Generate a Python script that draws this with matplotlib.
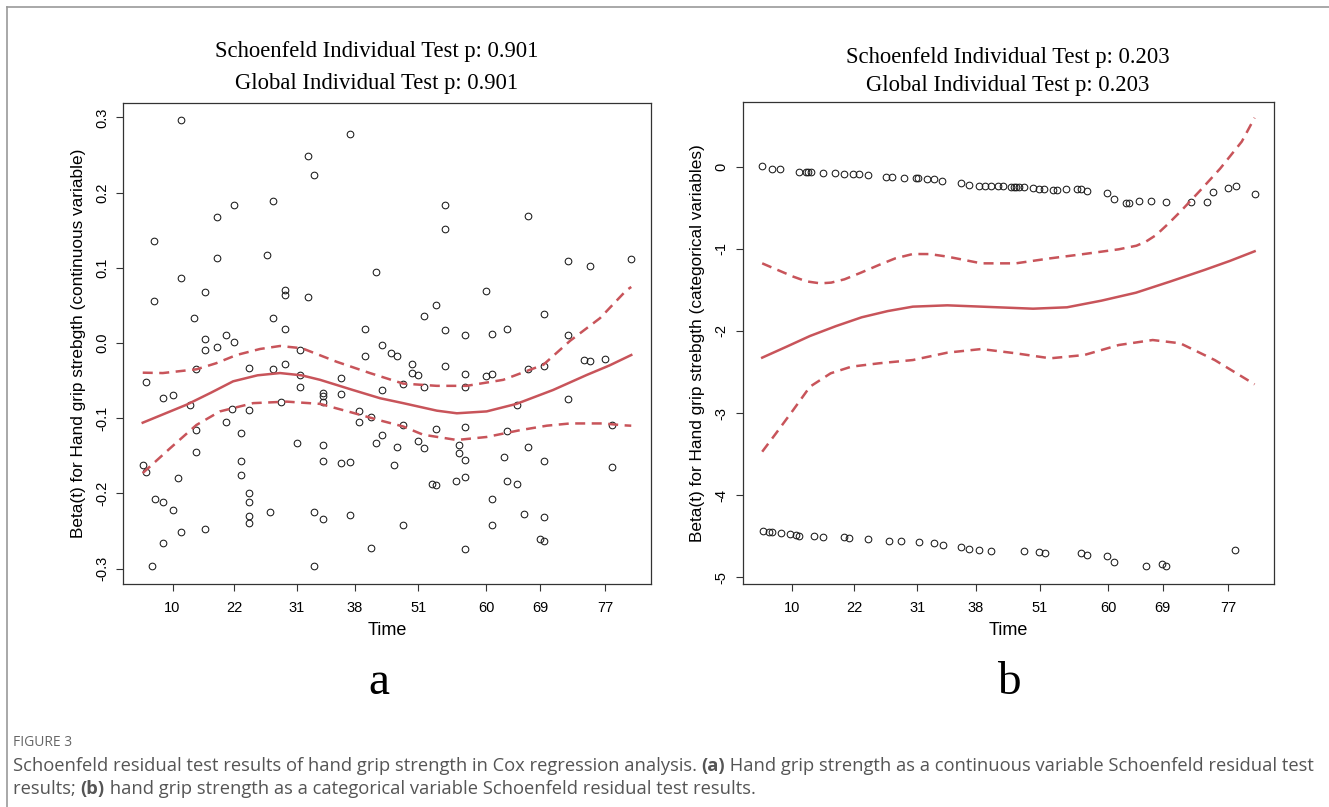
import matplotlib
matplotlib.use("Agg")
import matplotlib.pyplot as plt
from matplotlib.lines import Line2D

# ---------------- data ----------------
# x axis: Kaplan-Meier transformed time (0 = first event, 1 = last event)
tick_pos = [0.061, 0.187, 0.315, 0.434, 0.564, 0.703, 0.813, 0.946]
tick_labels = ["10", "22", "31", "38", "51", "60", "69", "77"]

# panel a: continuous variable residuals
a_t = [0.079, 0.424, 0.339, 0.351, 0.187, 0.267, 0.151, 0.024, 0.151, 0.254,
       0.478, 0.079, 0.128, 0.024, 0.291, 0.291, 0.339, 0.104, 0.267, 0.291,
       0.454, 0.128, 0.170, 0.187, 0.128, 0.151, 0.322, 0.618, 0.618, 0.789,
       0.871, 0.915, 1.000, 0.703, 0.600, 0.575, 0.821, 0.618, 0.660, 0.715,
       0.746, 0.871, 0.490, 0.006, 0.110, 0.218, 0.267, 0.291, 0.321, 0.321,
       0.406, 0.454, 0.042, 0.061, 0.097, 0.182, 0.218, 0.284, 0.369, 0.369,
       0.369, 0.406, 0.442, 0.442, 0.467, 0.490, 0.490, 0.478, 0.170, 0.110,
       0.201, 0.315, 0.369, 0.110, 0.000, 0.007, 0.073, 0.201, 0.201, 0.369,
       0.406, 0.424, 0.025, 0.042, 0.061, 0.218, 0.218, 0.218, 0.218, 0.261,
       0.351, 0.369, 0.424, 0.079, 0.128, 0.042, 0.467, 0.018, 0.351, 0.509,
       0.521, 0.551, 0.551, 0.564, 0.618, 0.660, 0.703, 0.715, 0.789, 0.821,
       0.903, 0.915, 0.946, 0.533, 0.575, 0.660, 0.767, 0.871, 0.533, 0.600,
       0.660, 0.746, 0.961, 0.521, 0.564, 0.576, 0.648, 0.648, 0.660, 0.739,
       0.789, 0.821, 0.961, 0.515, 0.593, 0.600, 0.642, 0.660, 0.746, 0.767,
       0.715, 0.781, 0.821, 0.533, 0.715, 0.813, 0.821, 0.660]
a_beta = [0.296, 0.278, 0.249, 0.223, 0.184, 0.189, 0.168, 0.135, 0.113, 0.117,
          0.094, 0.087, 0.068, 0.056, 0.070, 0.064, 0.061, 0.033, 0.033, 0.018,
          0.018, 0.005, 0.011, 0.001, -0.009, -0.006, -0.009, 0.183, 0.152, 0.169,
          0.109, 0.103, 0.112, 0.069, 0.050, 0.036, 0.038, 0.017, 0.011, 0.012,
          0.019, 0.010, -0.003, -0.052, -0.035, -0.033, -0.035, -0.028, -0.043, -0.058,
          -0.047, -0.017, -0.073, -0.069, -0.083, -0.088, -0.089, -0.078, -0.066, -0.070,
          -0.078, -0.068, -0.090, -0.105, -0.099, -0.062, -0.123, -0.133, -0.105, -0.116,
          -0.120, -0.133, -0.136, -0.145, -0.162, -0.171, -0.180, -0.157, -0.176, -0.157,
          -0.160, -0.158, -0.207, -0.211, -0.222, -0.199, -0.211, -0.230, -0.239, -0.225,
          -0.225, -0.234, -0.229, -0.252, -0.247, -0.266, -0.273, -0.296, -0.297, -0.013,
          -0.017, -0.028, -0.040, -0.043, -0.030, -0.041, -0.044, -0.041, -0.034, -0.030,
          -0.022, -0.024, -0.021, -0.055, -0.059, -0.058, -0.082, -0.074, -0.109, -0.114,
          -0.112, -0.117, -0.109, -0.138, -0.130, -0.139, -0.136, -0.146, -0.155, -0.152,
          -0.138, -0.157, -0.165, -0.162, -0.188, -0.189, -0.183, -0.178, -0.184, -0.187,
          -0.207, -0.227, -0.231, -0.242, -0.242, -0.260, -0.263, -0.274]

a_fit_t = [0.0, 0.045, 0.090, 0.140, 0.185, 0.235, 0.281, 0.325, 0.363, 0.430, 0.486,
           0.533, 0.602, 0.643, 0.704, 0.765, 0.840, 0.909, 0.955, 1.0]
a_fit = [-0.106, -0.094, -0.082, -0.066, -0.051, -0.043, -0.040, -0.043, -0.049, -0.0625,
         -0.0735, -0.080, -0.090, -0.0935, -0.091, -0.081, -0.0625, -0.0425, -0.030, -0.016]
a_up_t = [0.0, 0.041, 0.110, 0.150, 0.192, 0.240, 0.281, 0.326, 0.397, 0.465, 0.533, 0.602,
          0.663, 0.738, 0.820, 0.875, 0.936, 0.990, 1.0]
a_up = [-0.0395, -0.040, -0.035, -0.027, -0.016, -0.008, -0.004, -0.007, -0.025, -0.040,
        -0.054, -0.057, -0.057, -0.049, -0.029, 0.003, 0.033, 0.070, 0.0745]
a_lo_t = [0.0, 0.056, 0.110, 0.158, 0.226, 0.295, 0.363, 0.431, 0.486, 0.533,
          0.574, 0.643, 0.704, 0.772, 0.827, 0.875, 0.943, 0.984, 1.0]
a_lo = [-0.173, -0.140, -0.109, -0.091, -0.080, -0.078, -0.081, -0.093, -0.103, -0.111,
        -0.122, -0.129, -0.125, -0.116, -0.110, -0.107, -0.107, -0.1095, -0.110]

# panel b: categorical variable residuals
b_t = [0.000, 0.020, 0.037, 0.074, 0.088, 0.094, 0.100, 0.123, 0.148, 0.166,
       0.184, 0.196, 0.215, 0.252, 0.263, 0.288, 0.312, 0.317, 0.335, 0.348,
       0.366, 0.403, 0.421, 0.440, 0.453, 0.465, 0.478, 0.489, 0.506, 0.511,
       0.516, 0.521, 0.531, 0.549, 0.562, 0.573, 0.591, 0.598, 0.616, 0.640,
       0.647, 0.659, 0.701, 0.714, 0.738, 0.745, 0.766, 0.789, 0.821, 0.871,
       0.904, 0.916, 0.945, 0.962, 1.000,
       0.001, 0.013, 0.020, 0.038, 0.057, 0.069, 0.074, 0.105, 0.123, 0.166,
       0.177, 0.215, 0.257, 0.282, 0.318, 0.349, 0.367, 0.403, 0.421, 0.440,
       0.464, 0.531, 0.562, 0.574, 0.647, 0.660, 0.701, 0.714, 0.780, 0.812,
       0.821, 0.961]
b_beta = [0.012, -0.021, -0.028, -0.065, -0.065, -0.065, -0.065, -0.073, -0.077, -0.082,
          -0.089, -0.089, -0.101, -0.118, -0.118, -0.130, -0.130, -0.130, -0.150, -0.150,
          -0.174, -0.199, -0.216, -0.235, -0.235, -0.235, -0.235, -0.238, -0.240, -0.240,
          -0.240, -0.240, -0.240, -0.260, -0.265, -0.268, -0.277, -0.277, -0.268, -0.268,
          -0.268, -0.289, -0.313, -0.387, -0.435, -0.435, -0.418, -0.415, -0.427, -0.427,
          -0.427, -0.305, -0.260, -0.235, -0.326,
          -4.435, -4.448, -4.451, -4.467, -4.476, -4.488, -4.500, -4.504, -4.509, -4.516,
          -4.521, -4.540, -4.557, -4.561, -4.573, -4.589, -4.610, -4.638, -4.659, -4.671,
          -4.679, -4.679, -4.699, -4.707, -4.704, -4.728, -4.748, -4.821, -4.862, -4.838,
          -4.866, -4.671]

b_fit_t = [0.0, 0.050, 0.097, 0.150, 0.202, 0.255, 0.306, 0.376, 0.445, 0.550, 0.619,
           0.689, 0.759, 0.828, 0.898, 0.950, 1.0]
b_fit = [-2.325, -2.190, -2.061, -1.940, -1.833, -1.757, -1.703, -1.687, -1.703, -1.728,
         -1.711, -1.630, -1.533, -1.398, -1.256, -1.145, -1.028]
b_up_t = [0.0, 0.063, 0.090, 0.118, 0.140, 0.167, 0.200, 0.237, 0.270, 0.306, 0.340,
          0.376, 0.445, 0.515, 0.585, 0.654, 0.724, 0.760, 0.779, 0.800, 0.825, 0.850,
          0.889, 0.930, 0.974, 1.0]
b_up = [-1.175, -1.337, -1.395, -1.419, -1.410, -1.370, -1.290, -1.195, -1.115, -1.061,
        -1.062, -1.093, -1.175, -1.175, -1.114, -1.061, -1.004, -0.960, -0.911, -0.830,
        -0.690, -0.540, -0.290, -0.020, 0.310, 0.600]
b_lo_t = [0.0, 0.028, 0.063, 0.097, 0.139, 0.181, 0.237, 0.306, 0.376, 0.445,
          0.515, 0.585, 0.654, 0.724, 0.793, 0.849, 0.919, 1.0]
b_lo = [-3.472, -3.248, -2.963, -2.679, -2.516, -2.435, -2.394, -2.354, -2.264, -2.220,
        -2.272, -2.333, -2.293, -2.171, -2.110, -2.150, -2.354, -2.650]

a_yticks = [0.3, 0.2, 0.1, 0.0, -0.1, -0.2, -0.3]
a_yticklabels = ["0.3", "0.2", "0.1", "0.0", "-0.1", "-0.2", "-0.3"]
b_yticks = [0, -1, -2, -3, -4, -5]
b_yticklabels = ["0", "-1", "-2", "-3", "-4", "-5"]

titles_a = ["Schoenfeld Individual Test p: 0.901", "Global Individual Test p: 0.901"]
titles_b = ["Schoenfeld Individual Test p: 0.203", "Global Individual Test p: 0.203"]
ylabel_a = "Beta(t) for Hand grip strebgth (continuous variable)"
ylabel_b = "Beta(t) for Hand grip strebgth (categorical variables)"

# ---------------- figure ----------------
W, H = 1329, 807
fig = plt.figure(figsize=(W / 100, H / 100), dpi=100)
fig.patch.set_facecolor("white")

RED = "#c8545a"
SANS = ["Liberation Sans", "DejaVu Sans"]
SERIF = ["Liberation Serif", "DejaVu Serif"]

ax_a = fig.add_axes([123.2 / W, 1 - 584 / H, 527.6 / W, 481.3 / H])
ax_b = fig.add_axes([742.5 / W, 1 - 584 / H, 531.8 / W, 482.3 / H])


def style(ax, yt, ytl, ylim, ylabel):
    ax.set_xlim(-0.04, 1.04)
    ax.set_ylim(*ylim)
    ax.set_xticks(tick_pos)
    ax.set_xticklabels(tick_labels, fontfamily=SANS, fontsize=10.5)
    ax.set_yticks(yt)
    ax.set_yticklabels(ytl, fontfamily=SANS, fontsize=10.5, rotation=90, va="center")
    ax.tick_params(direction="out", length=5, width=0.8, color="#333333")
    ax.tick_params(axis="x", pad=7)
    ax.tick_params(axis="y", pad=5)
    for s in ax.spines.values():
        s.set_color("#333333")
        s.set_linewidth(0.9)
    ax.set_xlabel("Time", fontfamily=SANS, fontsize=13, labelpad=5)
    ax.set_ylabel(ylabel, fontfamily=SANS, fontsize=12.4, labelpad=7)


for ax, t, b, ft, f, ut, u, lt, lo in [
        (ax_a, a_t, a_beta, a_fit_t, a_fit, a_up_t, a_up, a_lo_t, a_lo),
        (ax_b, b_t, b_beta, b_fit_t, b_fit, b_up_t, b_up, b_lo_t, b_lo)]:
    ax.plot(t, b, linestyle="none", marker="o", markersize=4.8,
            markerfacecolor="none", markeredgecolor="#1a1a1a", markeredgewidth=0.75)
    ax.plot(ft, f, color=RED, lw=1.8, solid_joinstyle="round")
    ax.plot(ut, u, color=RED, lw=1.8, dashes=(4, 2.6))
    ax.plot(lt, lo, color=RED, lw=1.8, dashes=(4, 2.6))

style(ax_a, a_yticks, a_yticklabels, (-0.3205, 0.3195), ylabel_a)
style(ax_b, b_yticks, b_yticklabels, (-5.085, 0.796), ylabel_b)

# titles
TS = 16.3
fig.text(377 / W, 1 - 52 / H, titles_a[0], ha="center", va="center", fontfamily=SERIF, fontsize=TS)
fig.text(377 / W, 1 - 84 / H, titles_a[1], ha="center", va="center", fontfamily=SERIF, fontsize=TS)
fig.text(1008 / W, 1 - 58 / H, titles_b[0], ha="center", va="center", fontfamily=SERIF, fontsize=TS)
fig.text(1008 / W, 1 - 86 / H, titles_b[1], ha="center", va="center", fontfamily=SERIF, fontsize=TS)

# panel letters
fig.text(379 / W, 1 - 683 / H, "a", ha="center", va="center", fontfamily=SERIF, fontsize=34)
fig.text(1009 / W, 1 - 683 / H, "b", ha="center", va="center", fontfamily=SERIF, fontsize=34)

# outer frame lines
fig.add_artist(Line2D([7.3 / W, 7.3 / W], [0, 1 - 7.3 / H], transform=fig.transFigure,
                      color="#9a9a9a", lw=1.2))
fig.add_artist(Line2D([7.3 / W, 1], [1 - 7.3 / H, 1 - 7.3 / H], transform=fig.transFigure,
                      color="#9a9a9a", lw=1.2))

# caption
CAP = ["Open Sans", "DejaVu Sans"]
fig.text(13 / W, 1 - 742 / H, "FIGURE 3", ha="left", va="center", fontfamily=CAP,
         fontsize=10, color="#666666")

renderer = fig.canvas.get_renderer()


def rich_line(x_px, y_px, parts, size=13.2, color="#555555"):
    x = x_px
    for txt, weight in parts:
        t = fig.text(x / W, 1 - y_px / H, txt, ha="left", va="center", fontfamily=CAP,
                     fontsize=size, fontweight=weight, color=color)
        bb = t.get_window_extent(renderer=renderer)
        x += bb.width


rich_line(13, 766, [
    ("Schoenfeld residual test results of hand grip strength in Cox regression analysis. ", "normal"),
    ("(a)", "bold"),
    (" Hand grip strength as a continuous variable Schoenfeld residual test", "normal")])
rich_line(13, 789, [
    ("results; ", "normal"),
    ("(b)", "bold"),
    (" hand grip strength as a categorical variable Schoenfeld residual test results.", "normal")])

fig.savefig("out.png", dpi=100)
